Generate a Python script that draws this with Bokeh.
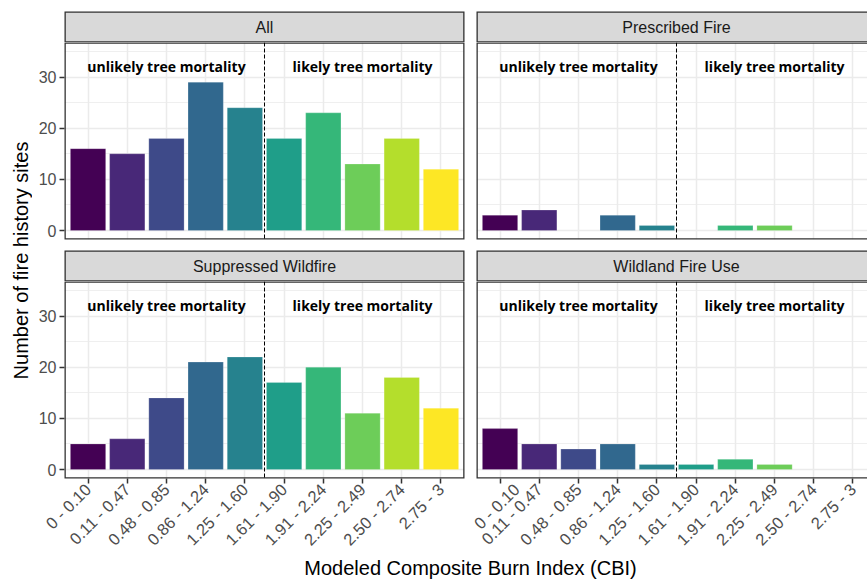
import math
from bokeh.plotting import figure
from bokeh.models import Range1d, FixedTicker, Grid, LinearAxis, Label, Span, ColumnDataSource
from bokeh.layouts import row, column
from bokeh.core.properties import value
from bokeh.embed import file_html
from bokeh.resources import INLINE

# ---------------- data ----------------
categories = ["0 - 0.10", "0.11 - 0.47", "0.48 - 0.85", "0.86 - 1.24", "1.25 - 1.60",
              "1.61 - 1.90", "1.91 - 2.24", "2.25 - 2.49", "2.50 - 2.74", "2.75 - 3"]
facets = ["All", "Prescribed Fire", "Suppressed Wildfire", "Wildland Fire Use"]
counts_all = [16, 15, 18, 29, 24, 18, 23, 13, 18, 12]
counts_prescribed = [3, 4, 0, 3, 1, 0, 1, 1, 0, 0]
counts_suppressed = [5, 6, 14, 21, 22, 17, 20, 11, 18, 12]
counts_wfu = [8, 5, 4, 5, 1, 1, 2, 1, 0, 0]
bar_colors = ["#440154", "#482878", "#3E4A89", "#31688E", "#26828E",
              "#1F9E89", "#35B779", "#6DCD59", "#B4DE2C", "#FDE725"]
y_ticks = [0, 10, 20, 30]
y_minor = [5, 15, 25, 35]
zone_labels = ["unlikely tree mortality", "likely tree mortality"]
zone_centers = [3, 8]
zone_label_y = 32
threshold = 5.5
x_title = "Modeled Composite Burn Index (CBI)"
y_title = "Number of fire history sites"

# ---------------- style ----------------
FONT = "Liberation Sans"
GRID = "#EBEBEB"
DARK = "#333333"
STRIP = "#D9D9D9"
BW = 2.6  # border line width (half is clipped by the frame)

xpos = list(range(1, len(categories) + 1))
X_START, X_END_FULL = 0.4, 10.6
Y_START, Y_END = -1.75, 36.75

YLAB_W = 32
LEFT_W, RIGHT_W = 438, 397
LEFT_MBL, LEFT_MBR = 32, 6
RIGHT_MBL, RIGHT_MBR = 6, 0
px_per_unit = (LEFT_W - LEFT_MBL - LEFT_MBR) / (X_END_FULL - X_START)
RIGHT_X_END = X_START + (RIGHT_W - RIGHT_MBL - RIGHT_MBR) / px_per_unit


def base_fig(w, h, x_end, y0, y1, mbl, mbr, mbt, mbb):
    p = figure(width=w, height=h, x_range=Range1d(X_START, x_end), y_range=Range1d(y0, y1),
               x_axis_type=None, y_axis_type=None, toolbar_location=None,
               output_backend="svg", min_border_left=mbl, min_border_right=mbr,
               min_border_top=mbt, min_border_bottom=mbb)
    p.outline_line_color = None
    p.background_fill_color = "white"
    p.border_fill_color = "white"
    return p


def make_strip(title, left, h, mbt):
    if left:
        p = base_fig(LEFT_W, h, X_END_FULL, 0, 1, LEFT_MBL, LEFT_MBR, mbt, 0)
    else:
        p = base_fig(RIGHT_W, h, RIGHT_X_END, 0, 1, RIGHT_MBL, RIGHT_MBR, mbt, 0)
    p.quad(left=[X_START], right=[X_END_FULL], bottom=[0], top=[1],
           fill_color=STRIP, line_color=DARK, line_width=BW)
    p.add_layout(Label(x=(xpos[0] + xpos[-1]) / 2, y=0.5, text=title,
                       text_align="center", text_baseline="middle",
                       text_font=FONT, text_font_size="16px", text_color="#1A1A1A"))
    return p


def make_panel(counts, left, bottom, h, mbb):
    if left:
        p = base_fig(LEFT_W, h, X_END_FULL, Y_START, Y_END, LEFT_MBL, LEFT_MBR, 0, mbb)
    else:
        p = base_fig(RIGHT_W, h, RIGHT_X_END, Y_START, Y_END, RIGHT_MBL, RIGHT_MBR, 0, mbb)
    p.add_layout(Grid(dimension=0, ticker=FixedTicker(ticks=xpos),
                      grid_line_color=GRID, grid_line_width=1.5))
    p.add_layout(Grid(dimension=1, ticker=FixedTicker(ticks=y_ticks, minor_ticks=y_minor),
                      grid_line_color=GRID, grid_line_width=1.5,
                      minor_grid_line_color=GRID, minor_grid_line_width=0.8))
    keep = [i for i, c in enumerate(counts) if c > 0]
    src = ColumnDataSource(dict(x=[xpos[i] for i in keep], top=[counts[i] for i in keep],
                                color=[bar_colors[i] for i in keep]))
    p.vbar(x="x", top="top", bottom=0, width=0.9, source=src,
           fill_color="color", line_color="white", line_alpha=0.35, line_width=0.6)
    p.add_layout(Span(location=threshold, dimension="height", line_color="black",
                      line_width=1, line_dash="4 2"))
    p.text(x=zone_centers, y=[zone_label_y] * len(zone_centers), text=zone_labels,
           text_font=value("Open Sans"), text_font_style="bold", text_font_size="14px",
           text_align="center", text_baseline="middle", text_color="black")
    p.quad(left=[X_START], right=[X_END_FULL], bottom=[Y_START], top=[Y_END],
           fill_color=None, line_color=DARK, line_width=BW)
    if left:
        ya = LinearAxis(ticker=FixedTicker(ticks=y_ticks, minor_ticks=[]))
        ya.axis_line_color = None
        ya.major_tick_line_color = DARK
        ya.major_tick_line_width = 1.5
        ya.major_tick_out = 5
        ya.major_tick_in = 0
        ya.minor_tick_line_color = None
        ya.major_label_standoff = 3
        ya.major_label_text_font = FONT
        ya.major_label_text_font_size = "16px"
        ya.major_label_text_color = "#4D4D4D"
        p.add_layout(ya, "left")
    if bottom:
        xa = LinearAxis(ticker=FixedTicker(ticks=xpos, minor_ticks=[]))
        xa.major_label_overrides = {x: c for x, c in zip(xpos, categories)}
        xa.major_label_orientation = math.pi / 4
        xa.axis_line_color = None
        xa.major_tick_line_color = DARK
        xa.major_tick_line_width = 1.5
        xa.major_tick_out = 5
        xa.major_tick_in = 0
        xa.minor_tick_line_color = None
        xa.major_label_standoff = 3
        xa.major_label_text_font = FONT
        xa.major_label_text_font_size = "16.5px"
        xa.major_label_text_color = "#4D4D4D"
        p.add_layout(xa, "below")
    return p


TOP_STRIP_H, TOP_STRIP_MBT = 42, 11
TOP_PANEL_H, TOP_PANEL_MBB = 203, 6
BOT_STRIP_H, BOT_STRIP_MBT = 36, 5
BOT_PANEL_H, BOT_PANEL_MBB = 277, 80

s_tl = make_strip(facets[0], True, TOP_STRIP_H, TOP_STRIP_MBT)
s_tr = make_strip(facets[1], False, TOP_STRIP_H, TOP_STRIP_MBT)
s_bl = make_strip(facets[2], True, BOT_STRIP_H, BOT_STRIP_MBT)
s_br = make_strip(facets[3], False, BOT_STRIP_H, BOT_STRIP_MBT)
p_tl = make_panel(counts_all, True, False, TOP_PANEL_H, TOP_PANEL_MBB)
p_tr = make_panel(counts_prescribed, False, False, TOP_PANEL_H, TOP_PANEL_MBB)
p_bl = make_panel(counts_suppressed, True, True, BOT_PANEL_H, BOT_PANEL_MBB)
p_br = make_panel(counts_wfu, False, True, BOT_PANEL_H, BOT_PANEL_MBB)

grid_h = TOP_STRIP_H + TOP_PANEL_H + BOT_STRIP_H + BOT_PANEL_H
ylab = figure(width=YLAB_W, height=grid_h, x_range=Range1d(0, YLAB_W), y_range=Range1d(0, grid_h),
              x_axis_type=None, y_axis_type=None, toolbar_location=None, output_backend="svg",
              min_border=0)
ylab.outline_line_color = None
ylab.add_layout(Label(x=20, y=grid_h - 260, text=y_title, angle=math.pi / 2,
                      text_align="center", text_baseline="middle",
                      text_font=FONT, text_font_size="20px", text_color="black"))

total_w = YLAB_W + LEFT_W + RIGHT_W
XLAB_H = 21
xlab = figure(width=total_w, height=XLAB_H, x_range=Range1d(0, total_w), y_range=Range1d(0, XLAB_H),
              x_axis_type=None, y_axis_type=None, toolbar_location=None, output_backend="svg",
              min_border=0)
xlab.outline_line_color = None
xlab.add_layout(Label(x=470, y=1, text=x_title, text_align="center", text_baseline="bottom",
                      text_font=FONT, text_font_size="20px", text_color="black"))

layout = column(row(ylab, column(s_tl, p_tl, s_bl, p_bl), column(s_tr, p_tr, s_br, p_br)), xlab)

open("out.html", "w").write(file_html(layout, INLINE))
